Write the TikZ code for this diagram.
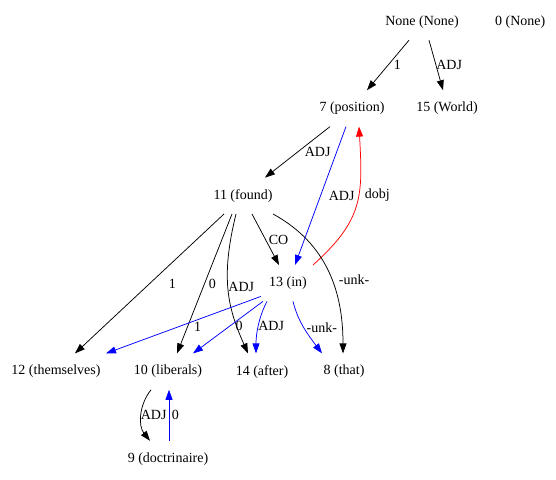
\documentclass[tikz,border=0pt]{standalone}
\usepackage{fontspec}
\setmainfont{Liberation Serif}
\usetikzlibrary{positioning, arrows.meta}

\begin{document}
\begin{tikzpicture}[
    x=1pt, y=1pt,
    font=\fontsize{14}{16}\selectfont,
    >={Triangle[length=10pt, width=7pt]},
    word/.style={inner xsep=8pt, inner ysep=0pt, minimum height=36pt},
    arrow/.style={->, line width=0.75pt},
    dep/.style={arrow, blue},
    head/.style={arrow, red},
    lbl/.style={anchor=west, inner sep=1pt, text=black}
]
\useasboundingbox (0,0) rectangle (556,-479);

% Root row
\node[word] (none) at (422,-22) {None (None)};
\node[word, right=20pt of none] (zero) {0 (None)};

% Second and third rows
\node[word, below=50pt of none, xshift=-70pt] (n7) {7 (position)};
\node[word, below=50pt of none, xshift=25pt] (n15) {15 (World)};
\node[word, below=51pt of n7, xshift=-109pt] (n11) {11 (found)};
\node[word, below=51pt of n11, xshift=45pt] (n13) {13 (in)};

% Leaves
\node[word, below=52pt of n13, xshift=-232pt] (n12) {12 (themselves)};
\node[word, below=52pt of n13, xshift=-120pt] (n10) {10 (liberals)};
\node[word, below=52pt of n13, xshift=-26pt] (n14) {14 (after)};
\node[word, below=52pt of n13, xshift=56pt] (n8) {8 (that)};
\node[word, below=51pt of n10] (n9) {9 (doctrinaire)};

% Arcs from the root
\draw[arrow] ([xshift=-13pt]none.south) -- node[lbl, xshift=4.5pt] {1} ([xshift=15pt]n7.north);
\draw[arrow] ([xshift=7pt]none.south) -- node[lbl, xshift=-1pt] {ADJ} ([xshift=-4pt]n15.north);

% Arcs from 7
\draw[arrow] ([xshift=-22pt]n7.south) -- node[lbl, xshift=6pt] {ADJ} ([xshift=22pt]n11.north);
\draw[dep] ([xshift=-6pt]n7.south) -- node[lbl, xshift=7pt] {ADJ} ([xshift=7pt]n13.north);
\draw[head] ([xshift=25pt]n13.north) .. controls +(50,45) and +(4,-70) .. ([xshift=7pt]n7.south) node[lbl, pos=0.58, xshift=5pt] {dobj};

% Arcs from 11
\draw[arrow] ([xshift=9pt]n11.south) -- node[lbl, xshift=2pt] {CO} ([xshift=-9pt]n13.north);
\draw[arrow] ([xshift=-19pt]n11.south) -- node[lbl, xshift=18pt] {1} ([xshift=19pt]n12.north);
\draw[arrow] ([xshift=-11pt]n11.south) -- node[lbl, xshift=3pt] {0} ([xshift=9pt]n10.north);
\draw[arrow] ([xshift=-7pt]n11.south) .. controls +(-16,-65) and +(-20,45) .. ([xshift=-14pt]n14.north) node[lbl, pos=0.47, xshift=-1pt] {ADJ};
\draw[arrow] ([xshift=30pt]n11.south) .. controls +(55,-30) and +(0,60) .. ([xshift=-1pt]n8.north) node[lbl, pos=0.55, xshift=6pt] {-unk-};

% Arcs from 13
\draw[dep] (n13.-154) -- node[lbl, pos=0.53, xshift=14pt] {1} ([xshift=50pt]n12.north);
\draw[dep] ([xshift=2pt]n13.south west) -- node[lbl, pos=0.48, xshift=5pt] {0} ([xshift=25pt]n10.north);
\draw[dep] ([xshift=-21pt]n13.south) .. controls +(-8,-15) and +(0,20) .. ([xshift=-6pt]n14.north) node[lbl, pos=0.5, xshift=-1.5pt] {ADJ};
\draw[dep] ([xshift=5pt]n13.south) .. controls +(5,-20) and +(-15,20) .. ([xshift=-22pt]n8.north) node[lbl, pos=0.5, xshift=1.5pt] {-unk-};

% Bottom pair
\draw[arrow] ([xshift=-17pt]n10.south) .. controls +(-12,-15) and +(-12,15) .. ([xshift=-18pt]n9.north) node[lbl, pos=0.5, xshift=-2pt] {ADJ};
\draw[dep] ([xshift=1pt]n9.north) -- node[lbl, xshift=1.5pt] {0} ([xshift=1pt]n10.south);

\end{tikzpicture}
\end{document}
